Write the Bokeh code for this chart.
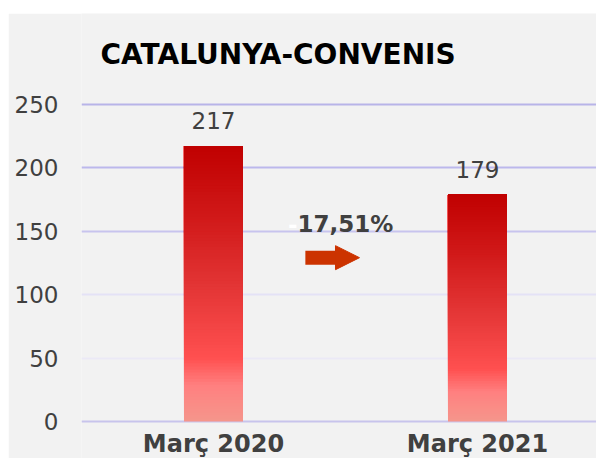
from bokeh.plotting import figure
from bokeh.models import Range1d, FixedTicker, Grid, Arrow, NormalHead, Label, Spacer
from bokeh.layouts import row, column
from bokeh.embed import file_html
from bokeh.resources import INLINE
from bokeh.core.properties import value

# ---- data ----
categories = ["Març 2020", "Març 2021"]
values = [217, 179]
y_ticks = [0, 50, 100, 150, 200, 250]
title_text = "CATALUNYA-CONVENIS"

change = (values[1] - values[0]) / values[0] * 100
change_sign = "-" if change < 0 else "+"
change_text = f"{abs(change):.2f}%".replace(".", ",")

x_pos = [i + 0.5 for i in range(len(categories))]

# ---- styles ----
BG = "#f2f2f2"
TXT = "#404040"
FONT = "DejaVu Sans"
grid_colors = ["#c8c4ec", "#ebe9f6", "#e4e2f6", "#c8c4ee", "#bcb8ec", "#b8b4e8"]
stops = [(0.0, "#c00000"), (0.25, "#d01818"), (0.5, "#e23434"),
         (0.77, "#ff5050"), (0.87, "#ff8080"), (1.0, "#f5968c")]


def hex2rgb(h):
    return tuple(int(h[i:i + 2], 16) for i in (1, 3, 5))


def grad(f):
    for (f0, c0), (f1, c1) in zip(stops[:-1], stops[1:]):
        if f0 <= f <= f1:
            t = (f - f0) / (f1 - f0)
            a, b = hex2rgb(c0), hex2rgb(c1)
            return "#%02x%02x%02x" % tuple(round(a[k] + (b[k] - a[k]) * t) for k in range(3))
    return stops[-1][1]


p = figure(width=588, height=445, title=None,
           x_range=Range1d(0, 1.9508), y_range=Range1d(-29.13, 321.26),
           x_axis_location=None, output_backend="svg", toolbar_location=None,
           min_border_left=73, min_border_right=0, min_border_top=0, min_border_bottom=0)
p.background_fill_color = BG
p.border_fill_color = BG
p.outline_line_color = None
for g in p.grid:
    g.visible = False

for t, c in zip(y_ticks, grid_colors):
    p.add_layout(Grid(dimension=1, ticker=FixedTicker(ticks=[t]),
                      grid_line_color=c, grid_line_width=2))

# gradient bars built from overlapping slices (each runs to the bar top)
N = 90
xs, bots, tops, cols = [], [], [], []
for x, v in zip(x_pos, values):
    for i in range(N):
        xs.append(x)
        bots.append(v * i / N)
        tops.append(v)
        cols.append(grad(1 - (i + 0.5) / N))
p.vbar(x=xs, bottom=bots, top=tops, width=0.2235, fill_color=cols, line_color=None)

# value labels
p.text(x=x_pos, y=values, text=[str(v) for v in values], text_align="center",
       text_baseline="middle", y_offset=-25, text_font_size="23px",
       text_color=TXT, text_font=value(FONT))

# category labels (below the zero line)
p.text(x=x_pos, y=[0] * len(categories), text=categories, text_align="center",
       text_baseline="middle", y_offset=22, text_font_size="24px", text_font_style="bold",
       text_color=TXT, text_font=value(FONT))

# title
p.add_layout(Label(x=0.072, y=288.6, text=title_text, text_align="left", text_baseline="middle",
                   text_font_size="28px", text_font_style="bold", text_color="#000000",
                   text_font=FONT))

# change label
p.add_layout(Label(x=0.818, y=155.5, text=change_text, text_align="left", text_baseline="middle",
                   text_font_size="23px", text_font_style="bold", text_color=TXT, text_font=FONT))
p.add_layout(Label(x=0.818, y=155.5, text=change_sign, text_align="right", text_baseline="middle",
                   text_font_size="23px", text_font_style="bold", text_color="#ffffff", text_font=FONT))

p.add_layout(Arrow(end=NormalHead(size=24, fill_color="#cc3300", line_color="#cc3300"),
                   x_start=0.848, y_start=129, x_end=1.053, y_end=129,
                   line_width=14, line_color="#cc3300"))

# y axis
p.yaxis.ticker = FixedTicker(ticks=y_ticks)
p.yaxis.axis_line_color = None
p.yaxis.major_tick_line_color = None
p.yaxis.minor_tick_line_color = None
p.yaxis.major_tick_out = 0
p.yaxis.major_tick_in = 0
p.yaxis.major_label_standoff = 23
p.yaxis.major_label_text_font_size = "23px"
p.yaxis.major_label_text_font = FONT
p.yaxis.major_label_text_color = TXT

layout = column(Spacer(width=596, height=13), row(Spacer(width=8, height=445), p))
open("out.html", "w").write(file_html(layout, INLINE))
